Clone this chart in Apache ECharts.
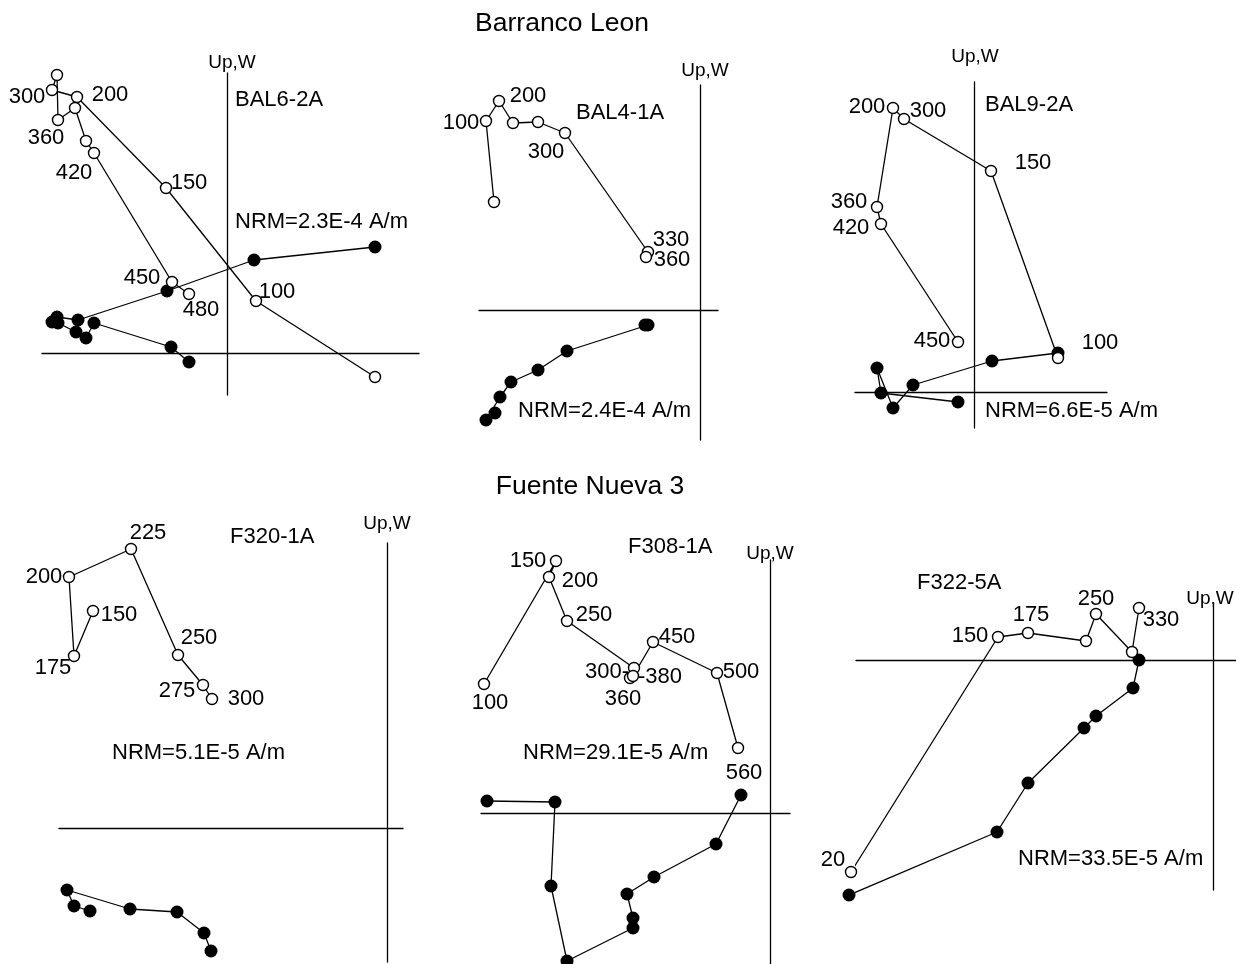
<!DOCTYPE html>
<html>
<head>
<meta charset="utf-8">
<script src="https://cdn.jsdelivr.net/npm/echarts@6/dist/echarts.min.js"></script>
<style>
  html, body { margin: 0; padding: 0; background: #fff; }
  #chart { width: 1236px; height: 964px; }
</style>
</head>
<body>
<div id="chart"></div>
<script>
// Zijderveld plots, values (origin = axis crossing, y up)
// open = vertical projection (Up), filled = horizontal projection (W)

// BAL6-2A
const bal62aOpen = [[148, -24], [29, 52], [-61, 165], [-150, 256], [-175, 263], [-170, 278],
  [-169, 233], [-152, 245], [-141, 212], [-133, 200], [-55, 71], [-38, 59]];
const bal62aFilled = [[148, 106], [27, 93], [-60, 62], [-149, 33], [-170, 36], [-175, 31],
  [-169, 30], [-151, 21], [-141, 15], [-133, 30], [-56, 6], [-38, -9]];
const bal62aSteps = ["", "100", "150", "200", "300", "", "360", "", "", "420", "450", "480"];

// BAL4-1A
const bal41aOpen = [[-206, 108], [-214, 189], [-201, 209], [-187, 187], [-162, 188], [-135, 177], [-52, 58], [-54, 53]];
const bal41aFilled = [[-205, -103], [-214, -110], [-200, -87], [-189, -72], [-162, -60], [-133, -41], [-52, -15], [-55, -15]];
const bal41aSteps = ["", "100", "200", "", "", "300", "330", "360"];

// BAL9-2A
const bal92aOpen = [[84, 34], [17, 221], [-70, 273], [-81, 284], [-97, 185], [-93, 168], [-16, 50]];
const bal92aFilled = [[84, 39], [18, 31], [-61, 7], [-81, -16], [-97, 24], [-93, -1], [-16, -10]];
const bal92aSteps = ["100", "150", "300", "200", "360", "420", "450"];

// F320-1A
const f3201aOpen = [[-294, 217], [-313, 172], [-318, 251], [-256, 279], [-209, 173], [-184, 143], [-175, 129]];
const f3201aFilled = [[-297, -83], [-313, -78], [-320, -62], [-257, -81], [-210, -84], [-183, -105], [-176, -123]];
const f3201aSteps = ["150", "175", "200", "225", "250", "275", "300"];

// F308-1A
const f3081aOpen = [[-286, 129], [-214, 252], [-221, 236], [-203, 192], [-136, 145], [-140, 135],
  [-137, 137], [-117, 171], [-53, 140], [-32, 65]];
const f3081aFilled = [[-283, 12], [-215, 11], [-219, -73], [-203, -148], [-137, -115], [-137, -105],
  [-143, -81], [-116, -64], [-54, -31], [-29, 18]];
const f3081aSteps = ["100", "150", "200", "250", "300-", "360", "-380", "450", "500", "560"];

// F322-5A
const f3225aOpen = [[-362, -212], [-215, 23], [-185, 27], [-127, 19], [-117, 46], [-81, 8], [-74, 52]];
const f3225aFilled = [[-364, -235], [-216, -172], [-185, -123], [-129, -68], [-117, -56], [-80, -28], [-74, 0]];
const f3225aSteps = ["20", "150", "175", "", "250", "", "330"];

const FONT = "Liberation Sans, Arial, sans-serif";

// layout: origin on page, axis extents, label offsets (px)
const panels = [
  { name: "BAL6-2A", nrm: "NRM=2.3E-4 A/m", open: bal62aOpen, filled: bal62aFilled, steps: bal62aSteps,
    ox: 227, oy: 353, xmin: -185, xmax: 192, ymin: -42, ymax: 280, nameGap: 1, nameShift: 5,
    namePos: [235, 100], nrmPos: [235, 222],
    offsets: [null, [21, -9], [23, -5], [33, -2], [-25, 7], null, [-12, 18], null, null, [-20, 20], [-30, -4], [12, 16]] },
  { name: "BAL4-1A", nrm: "NRM=2.4E-4 A/m", open: bal41aOpen, filled: bal41aFilled, steps: bal41aSteps,
    ox: 700, oy: 310, xmin: -221, xmax: 18, ymin: -130, ymax: 225, nameGap: 5, nameShift: 5,
    namePos: [576, 113], nrmPos: [518, 411],
    offsets: [null, [-25, 2], [29, -5], null, null, [-19, 19], [23, -12], [26, 3]] },
  { name: "BAL9-2A", nrm: "NRM=6.6E-5 A/m", open: bal92aOpen, filled: bal92aFilled, steps: bal92aSteps,
    ox: 974, oy: 392, xmin: -119, xmax: 133, ymin: -36, ymax: 310, nameGap: 16, nameShift: 1,
    namePos: [985, 105], nrmPos: [985, 411],
    offsets: [[42, -15], [42, -8], [24, -8], [-26, -1], [-28, -5], [-30, 4], [-26, -1]] },
  { name: "F320-1A", nrm: "NRM=5.1E-5 A/m", open: f3201aOpen, filled: f3201aFilled, steps: f3201aSteps,
    ox: 387, oy: 828, xmin: -328, xmax: 16, ymin: -134, ymax: 285, nameGap: 10, nameShift: 0,
    namePos: [230, 537], nrmPos: [112, 753],
    offsets: [[26, 4], [-21, 12], [-25, 0], [17, -16], [21, -17], [-26, 6], [34, 0]] },
  { name: "F308-1A", nrm: "NRM=29.1E-5 A/m", open: f3081aOpen, filled: f3081aFilled, steps: f3081aSteps,
    ox: 770, oy: 813, xmin: -289, xmax: 20, ymin: -151, ymax: 253, nameGap: -3, nameShift: 0,
    namePos: [628, 547], nrmPos: [523, 753],
    offsets: [[6, 19], [-28, 0], [31, 4], [27, -6], [-27, 4], [-7, 21], [27, 1], [24, -5], [24, -1], [6, 25]] },
  { name: "F322-5A", nrm: "NRM=33.5E-5 A/m", open: f3225aOpen, filled: f3225aFilled, steps: f3225aSteps,
    ox: 1213, oy: 660, xmin: -357, xmax: 23, ymin: -230, ymax: 57, nameGap: -5, nameShift: -3,
    namePos: [917, 583], nrmPos: [1018, 859],
    offsets: [[-18, -12], [-28, -1], [3, -18], null, [0, -15], null, [22, 12]] }
];

const axisLine = { onZero: true, lineStyle: { color: "#000", width: 1.3 } };

const grids = [], xAxes = [], yAxes = [], series = [], texts = [];

panels.forEach((p, i) => {
  grids.push({
    left: p.ox + p.xmin, top: p.oy - p.ymax,
    width: p.xmax - p.xmin, height: p.ymax - p.ymin
  });
  xAxes.push({
    gridIndex: i, type: "value", min: p.xmin, max: p.xmax,
    axisLine, axisTick: { show: false }, axisLabel: { show: false }, splitLine: { show: false }
  });
  const pad = p.nameShift >= 0 ? [0, 0, 0, 2 * p.nameShift] : [0, -2 * p.nameShift, 0, 0];
  yAxes.push({
    gridIndex: i, type: "value", min: p.ymin, max: p.ymax,
    name: "Up,W", nameLocation: "end", nameGap: p.nameGap,
    nameTextStyle: { color: "#000", fontSize: 19, fontFamily: FONT, padding: pad },
    axisLine, axisTick: { show: false }, axisLabel: { show: false }, splitLine: { show: false }
  });

  series.push({
    type: "line", xAxisIndex: i, yAxisIndex: i, clip: false, z: 3,
    symbol: "circle", symbolSize: 13, showAllSymbol: true,
    lineStyle: { color: "#000", width: 1.3 },
    itemStyle: { color: "#000", borderWidth: 0 },
    emphasis: { disabled: true },
    data: p.filled
  });
  series.push({
    type: "line", xAxisIndex: i, yAxisIndex: i, clip: false, z: 4,
    symbol: "circle", symbolSize: 11, showAllSymbol: true,
    lineStyle: { color: "#000", width: 1.3 },
    itemStyle: { color: "#fff", borderColor: "#000", borderWidth: 1.4 },
    label: { position: "inside", color: "#000", fontSize: 22, fontFamily: FONT },
    emphasis: { disabled: true },
    data: p.open.map((v, k) => ({
      value: v,
      label: p.steps[k]
        ? { show: true, formatter: p.steps[k], offset: p.offsets[k] }
        : { show: false }
    }))
  });

  texts.push({ type: "text", x: p.namePos[0], y: p.namePos[1],
    style: { text: p.name, fill: "#000", font: "22px " + FONT, verticalAlign: "middle" } });
  texts.push({ type: "text", x: p.nrmPos[0], y: p.nrmPos[1],
    style: { text: p.nrm, fill: "#000", font: "22px " + FONT, verticalAlign: "middle" } });
});

texts.push({ type: "text", x: 562, y: 24,
  style: { text: "Barranco Leon", fill: "#000", font: "26.5px " + FONT, align: "center", verticalAlign: "middle" } });
texts.push({ type: "text", x: 590, y: 487,
  style: { text: "Fuente Nueva 3", fill: "#000", font: "26.5px " + FONT, align: "center", verticalAlign: "middle" } });

const chart = echarts.init(document.getElementById("chart"));
chart.setOption({
  animation: false,
  backgroundColor: "#fff",
  grid: grids,
  xAxis: xAxes,
  yAxis: yAxes,
  series,
  graphic: texts
});
window.addEventListener("resize", () => chart.resize());
</script>
</body>
</html>
